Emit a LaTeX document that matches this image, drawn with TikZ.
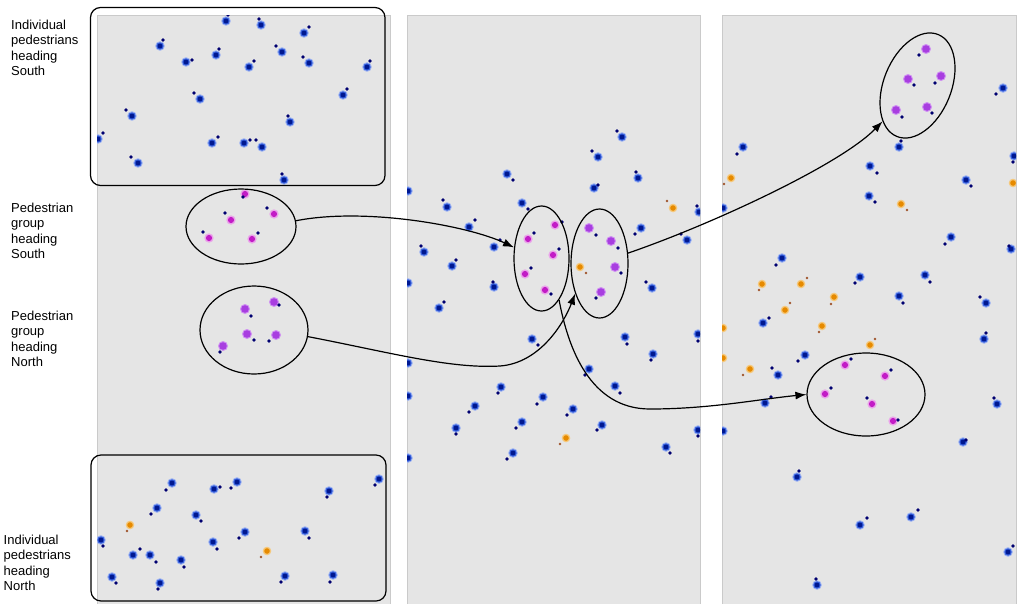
\documentclass[tikz,border=0pt]{standalone}
\usepackage{fontspec}
\setmainfont{Liberation Sans}
\usetikzlibrary{shapes.geometric,arrows.meta}
\definecolor{panelfill}{HTML}{E5E5E5}
\definecolor{paneledge}{HTML}{CACACA}
\definecolor{bhalo}{HTML}{9DB3F2}
\definecolor{bmid}{HTML}{2F58D8}
\definecolor{bcore}{HTML}{001890}
\definecolor{navy}{HTML}{000070}
\definecolor{mhalo}{HTML}{EBA5EB}
\definecolor{mcore}{HTML}{C21CC6}
\definecolor{vhalo}{HTML}{CF8FF2}
\definecolor{vcore}{HTML}{A83EE0}
\definecolor{ohalo}{HTML}{F6C87A}
\definecolor{ocore}{HTML}{E68A00}
\definecolor{brownsm}{HTML}{A0552D}
\newcommand\pedB[4]{\fill[bhalo] (#1,#2) circle (4.8); \fill[bmid] (#1,#2) circle (3.7); \fill[bcore] (#1,#2) circle (2.4); \fill[navy] (#3,#4) circle (1.8);}
\newcommand\pedM[4]{\fill[mhalo] (#1,#2) circle (4.7); \fill[mcore] (#1,#2) circle (3.1); \fill[navy] (#3,#4) circle (1.8);}
\newcommand\pedV[4]{\fill[vhalo] (#1,#2) circle (5.0); \fill[vcore] (#1,#2) circle (3.8); \fill[navy] (#3,#4) circle (1.8);}
\newcommand\pedO[4]{\fill[ohalo] (#1,#2) circle (4.3); \fill[ocore] (#1,#2) circle (2.8); \fill[brownsm] (#3,#4) circle (1.3);}
\begin{document}
\begin{tikzpicture}[x=1pt,y=-1pt,
  panel/.style={fill=panelfill,draw=paneledge,line width=0.8pt},
  groupell/.style={ellipse,draw=black,line width=1.2pt,inner sep=0pt},
  indbox/.style={draw=black,line width=1.2pt,rounded corners=10pt,inner sep=0pt},
  conn/.style={draw=black,line width=1.2pt,-{Latex[length=11pt,width=8pt]}},
  lbl/.style={anchor=base west,align=left,inner sep=0pt,font=\fontsize{13}{15.5}\selectfont}]
\useasboundingbox (0,0) rectangle (1024,603);
\fill[white] (0,0) rectangle (1024,603);
% panels
\draw[panel] (97,15) rectangle (390,604);
\draw[panel] (407,15) rectangle (700,604);
\draw[panel] (722,15) rectangle (1016,604);
% left panel dots
\begin{scope}
\clip (97,15) rectangle (390,603);
\foreach \a/\b/\c/\d in {226/21/228/15, 261/25/259/19, 304/33/309/27, 160/46/163/40, 186/62/192/60, 216/55/219/49, 249/67/254/61, 282/52/276/46, 309/63/303/57, 367/67/370/61, 200/99/194/93, 343/95/347/89, 132/116/126/110, 290/122/288/116, 98/139/103/133, 212/143/218/137, 244/143/250/140, 262/147/256/140, 138/163/131/157, 284/180/282/174,
 172/483/166/490, 214/489/220/487, 237/482/231/488, 329/491/327/497, 379/479/375/485, 157/508/151/514, 196/515/201/521, 245/532/239/538, 305/531/309/538, 101/540/103/546, 213/542/217/549, 133/555/140/549, 150/555/156/562, 181/560/184/567, 112/577/116/583, 160/583/158/589, 285/576/281/582, 333/575/330/582}
 {\pedB{\a}{\b}{\c}{\d}}
\foreach \a/\b/\c/\d in {130/525/127/531, 267/551/261/557} {\pedO{\a}{\b}{\c}{\d}}
\foreach \a/\b/\c/\d in {245/194/243/197, 231/220/225/213, 274/214/267/208, 209/238/203/232, 252/239/258/233} {\pedM{\a}{\b}{\c}{\d}}
\foreach \a/\b/\c/\d in {245/309/251/316, 274/302/279/305, 247/334/254/340, 276/335/269/341, 223/346/220/352} {\pedV{\a}{\b}{\c}{\d}}
\end{scope}
% middle panel dots
\begin{scope}
\clip (407,15) rectangle (700,603);
\foreach \a/\b/\c/\d in {622/137/617/131, 598/157/592/151, 507/174/513/180, 638/178/636/172, 594/188/598/185, 408/191/402/186, 447/207/443/200, 522/203/528/209, 699/212/697/206, 469/227/475/220, 641/228/635/234, 687/240/681/234, 424/252/421/246, 494/247/500/240, 452/266/456/260, 408/283/402/278, 494/287/493/282, 652/288/646/282, 439/308/444/302, 532/339/538/345, 625/337/627/344, 698/334/698/341, 653/354/651/360, 408/363/402/360, 589/369/585/375, 501/387/498/393, 615/386/620/393, 408/396/402/392, 543/397/537/404, 475/406/469/412, 573/409/567/415, 522/422/516/428, 456/428/456/434, 602/425/597/430, 698/430/698/436, 666/447/670/453, 408/458/402/455, 513/453/507/459}
 {\pedB{\a}{\b}{\c}{\d}}
\foreach \a/\b/\c/\d in {673/208/667/201, 580/267/586/273, 566/438/560/444} {\pedO{\a}{\b}{\c}{\d}}
\foreach \a/\b/\c/\d in {555/225/562/222, 528/239/534/233, 553/255/559/249, 525/274/531/268, 545/290/551/294} {\pedM{\a}{\b}{\c}{\d}}
\foreach \a/\b/\c/\d in {589/228/596/235, 611/241/618/248, 615/267/621/273, 601/292/596/298} {\pedV{\a}{\b}{\c}{\d}}
\end{scope}
% right panel dots
\begin{scope}
\clip (722,15) rectangle (1016,603);
\foreach \a/\b/\c/\d in {1003/88/996/94, 743/147/737/154, 899/147/901/141, 1014/156/1013/162, 870/166/877/173, 966/180/971/186, 723/208/717/203, 869/196/875/202, 951/237/945/244, 1011/249/1009/246, 782/258/776/265, 860/277/855/283, 925/275/930/282, 899/296/903/303, 986/303/980/297, 763/323/769/318, 984/339/986/333, 805/355/798/361, 778/375/772/368, 765/403/771/397, 723/431/717/428, 997/404/994/398, 963/442/966/440, 797/477/799/471, 911/517/918/510, 860/525/867/518, 1008/552/1013/546, 817/585/816/579}
 {\pedB{\a}{\b}{\c}{\d}}
\foreach \a/\b/\c/\d in {731/178/724/184, 1013/183/1019/180, 901/204/907/210, 762/284/759/290, 801/284/807/278, 834/297/831/304, 785/310/790/303, 822/326/819/332, 723/328/717/330, 870/345/875/339, 723/358/717/360, 750/369/743/375} {\pedO{\a}{\b}{\c}{\d}}
\foreach \a/\b/\c/\d in {926/49/919/55, 908/79/914/85, 941/76/935/83, 896/110/902/117, 927/107/932/113} {\pedV{\a}{\b}{\c}{\d}}
\foreach \a/\b/\c/\d in {845/365/851/359, 885/376/891/370, 825/394/831/388, 872/404/867/398, 893/421/898/420} {\pedM{\a}{\b}{\c}{\d}}
\end{scope}
% individual boxes
\node[indbox,minimum width=294.5pt,minimum height=178pt] (box1) at (237.75,96.5) {};
\node[indbox,minimum width=295pt,minimum height=146pt] (box2) at (238.5,528) {};
% group ellipses
\node[groupell,minimum width=110pt,minimum height=75pt] (e1) at (241,226.5) {};
\node[groupell,minimum width=108pt,minimum height=88pt] (e2) at (254,330) {};
\node[groupell,minimum width=55pt,minimum height=105pt] (e3) at (541.5,258.5) {};
\node[groupell,minimum width=57pt,minimum height=109pt] (e4) at (599.5,263.5) {};
\node[groupell,minimum width=67.6pt,minimum height=110pt,rotate=-22] (e5) at (917.5,85.5) {};
\node[groupell,minimum width=118pt,minimum height=83pt] (e6) at (866,394.5) {};
% connectors
\coordinate (a2m) at (500,366);
\coordinate (a3m) at (650,409);
\draw[conn] (e1.6) .. controls (366,207) and (469,226) .. (e3.158);
\draw[conn] (e2.-7) .. controls (388,352) and (450,369) .. (a2m) .. controls (540,363) and (564,323) .. (e4.231);
\draw[conn] (e3.-67) .. controls (568,348) and (590,409) .. (a3m) .. controls (710,409) and (760,399) .. (e6.west);
\draw[conn] (e4.20) .. controls (710,225) and (840,165) .. (e5);
% labels (anchored at the baseline of the last line)
\node[lbl] (l1) at (11,75.5) {Individual\\pedestrians\\heading\\South};
\node[lbl] (l2) at (11,258.5) {Pedestrian\\group\\heading\\South};
\node[lbl] (l3) at (11,366.5) {Pedestrian\\group\\heading\\North};
\node[lbl] (l4) at (3.5,590.5) {Individual\\pedestrians\\heading\\North};
\end{tikzpicture}
\end{document}
